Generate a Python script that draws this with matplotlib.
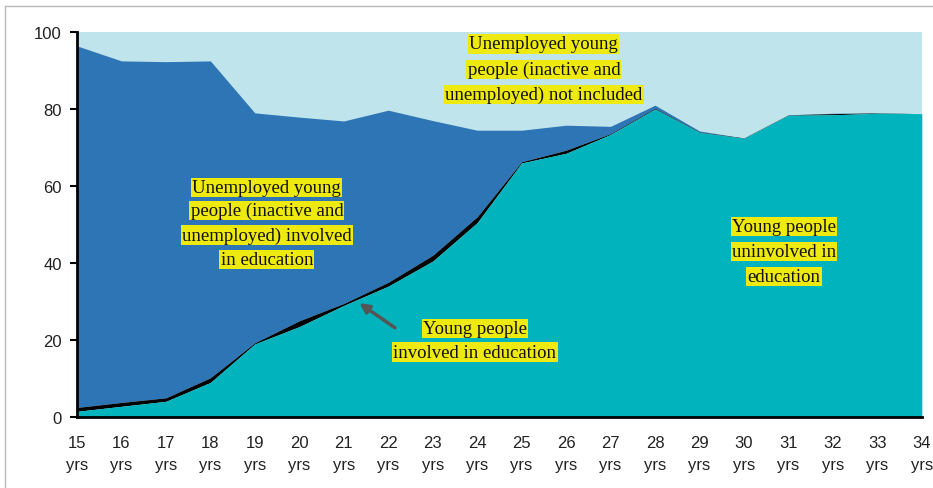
import matplotlib.pyplot as plt
from matplotlib.lines import Line2D

# ages 15..34
ages = list(range(15, 35))
age_labels = [f"{a}\nyrs" for a in ages]

# percentages
uninvolved = [1.5, 2.8, 4.1, 9.0, 19.0, 23.5, 29.0, 34.0, 40.5, 50.5,
              66.0, 68.5, 73.4, 80.0, 73.9, 72.4, 78.4, 78.5, 78.9, 78.8]
involved = [1.0, 1.0, 0.9, 1.2, 0.3, 1.5, 0.5, 1.0, 1.5, 1.5,
            0.3, 0.8, 0.2, 0.2, 0.1, 0.1, 0.1, 0.3, 0.1, 0.0]
unemployed_edu = [93.9, 88.7, 87.3, 82.3, 59.7, 52.9, 47.4, 44.7, 35.0, 22.5,
                  8.2, 6.5, 1.9, 0.8, 0.3, 0.0, 0.0, 0.1, 0.0, 0.0]

yticks = [0, 20, 40, 60, 80, 100]

TEAL = "#00B3BC"
BLUE = "#2E75B6"
LIGHT = "#C0E4EB"
YELLOW = "#EEEA10"


def label(ax, x, ys, lines):
    """ One yellow highlighted text per line, like the original. """
    for y, s in zip(ys, lines):
        ax.text(x, y, s, ha="center", va="center", fontsize=13.5,
                family="Liberation Serif", color="#111111", zorder=5,
                bbox=dict(boxstyle="square,pad=0.06", fc=YELLOW, ec="none"))


def main():
    fig = plt.figure(figsize=(9.33, 4.89), dpi=100)
    ax = fig.add_axes([0.0825, 0.145, 0.9055, 0.7875])

    top_teal = uninvolved
    top_black = [a + b for a, b in zip(top_teal, involved)]
    top_blue = [a + b for a, b in zip(top_black, unemployed_edu)]

    ax.fill_between(ages, 0, 100, color=LIGHT, lw=0)
    ax.fill_between(ages, top_black, top_blue, color=BLUE, lw=0)
    ax.fill_between(ages, top_teal, top_black, color="black", lw=0)
    ax.fill_between(ages, 0, top_teal, color=TEAL, lw=0)

    ax.set_xlim(15, 34)
    ax.set_ylim(0, 100)
    ax.set_xticks(ages)
    ax.set_xticklabels(age_labels, family="Liberation Sans", fontsize=12,
                       color="#222222", linespacing=1.6)
    ax.set_yticks(yticks)
    ax.set_yticklabels([str(v) for v in yticks], family="Liberation Sans",
                       fontsize=12, color="#222222")
    ax.tick_params(axis="x", length=0, pad=13)
    ax.tick_params(axis="y", length=5, width=1.5, pad=6)
    for side in ("top", "right"):
        ax.spines[side].set_visible(False)
    ax.spines["left"].set_linewidth(2)
    ax.spines["bottom"].set_linewidth(2)

    label(ax, 19.27, [59.7, 53.6, 47.3, 41.0],
          ["Unemployed young", "people (inactive and",
           "unemployed) involved", "in education"])
    label(ax, 25.5, [96.9, 90.3, 83.8],
          ["Unemployed young", "people (inactive and",
           "unemployed) not included"])
    label(ax, 23.95, [23.1, 16.9],
          ["Young people", "involved in education"])
    label(ax, 30.9, [49.4, 43.0, 36.6],
          ["Young people", "uninvolved in", "education"])

    ax.annotate("", xy=(21.3, 30.0), xytext=(22.2, 22.8),
                arrowprops=dict(arrowstyle="-|>", color="#555555", lw=2.5,
                                mutation_scale=14), zorder=6)

    # thin frame around the picture
    fig.add_artist(Line2D([0.005, 0.005], [0, 0.986], color="#BBBBBB", lw=1))
    fig.add_artist(Line2D([0.005, 1], [0.986, 0.986], color="#BBBBBB", lw=1))

    fig.savefig("out.png", dpi=100)


if __name__ == "__main__":
    main()
